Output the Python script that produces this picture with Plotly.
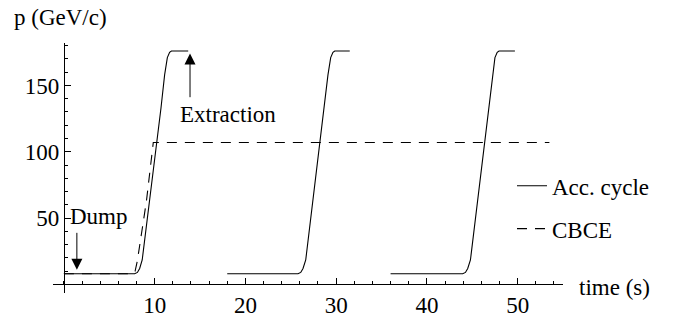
import plotly.graph_objects as go

# ---- data ----
cycle1_t = [0, 7.8, 8.1, 8.35, 8.63, 9.0, 9.48, 10.2, 10.7, 11.1, 11.4, 11.65, 11.85, 13.7]
cycle1_p = [8, 8, 9, 12, 18.4, 38.6, 63, 104.6, 133, 158, 171, 175, 176, 176]
cycle2_t = [18, 25.8, 26.1, 26.35, 26.65, 27.0, 27.5, 28.2, 28.7, 29.1, 29.4, 29.65, 29.85, 31.5]
cycle2_p = [8, 8, 9, 12, 18.4, 38.6, 63, 104.6, 133, 158, 171, 175, 176, 176]
cycle3_t = [36, 43.95, 44.25, 44.5, 44.8, 45.15, 45.6, 46.3, 46.8, 47.2, 47.5, 47.75, 47.95, 49.7]
cycle3_p = [8, 8, 9, 12, 18.4, 38.6, 63, 104.6, 133, 158, 171, 175, 176, 176]

cbce_t = [0, 7.6, 7.85, 8.1, 9.1, 9.85, 53.5]
cbce_p = [8, 8, 10, 18, 63, 107, 107]

x_ticks = [10, 20, 30, 40, 50]
y_ticks = [50, 100, 150]
x_range = [-1.2, 55]
y_range = [-6.5, 182]

FONT = "Liberation Serif, Times New Roman, Times, serif"
FS = 23

acc_t = cycle1_t + [None] + cycle2_t + [None] + cycle3_t
acc_p = cycle1_p + [None] + cycle2_p + [None] + cycle3_p

fig = go.Figure()
fig.add_trace(go.Scatter(x=acc_t, y=acc_p, mode="lines", name="Acc. cycle",
                         line=dict(color="black", width=1.1), legendgroup="a",
                         connectgaps=False, hoverinfo="skip"))
fig.add_trace(go.Scatter(x=cbce_t, y=cbce_p, mode="lines", name="CBCE",
                         line=dict(color="black", width=1.1, dash="10px,8px"),
                         legendgroup="b", hoverinfo="skip"))

x_pos = (0 - y_range[0]) / (y_range[1] - y_range[0])
y_pos = (0 - x_range[0]) / (x_range[1] - x_range[0])

fig.update_layout(
    template="none",
    width=684, height=318,
    margin=dict(l=53, r=121, t=43, b=25, autoexpand=False),
    paper_bgcolor="white", plot_bgcolor="white",
    font=dict(family=FONT, size=FS, color="black"),
    showlegend=True,
    legend=dict(x=0.9, y=0.515, xanchor="left", yanchor="top",
                traceorder="grouped", tracegroupgap=10,
                bgcolor="rgba(0,0,0,0)", borderwidth=0,
                font=dict(family=FONT, size=FS, color="black")),
    xaxis=dict(range=x_range, anchor="free", position=x_pos, automargin=False,
               showline=True, linecolor="black", linewidth=1,
               showgrid=False, zeroline=False,
               tickmode="array", tickvals=x_ticks, ticktext=[str(v) for v in x_ticks],
               ticks="inside", ticklen=6, tickwidth=1, tickcolor="black",
               minor=dict(tickmode="linear", tick0=0, dtick=2, ticks="inside",
                          ticklen=3.5, tickwidth=1, tickcolor="black", showgrid=False),
               tickfont=dict(family=FONT, size=FS, color="black")),
    yaxis=dict(range=y_range, anchor="free", position=y_pos, automargin=False,
               showline=True, linecolor="black", linewidth=1,
               showgrid=False, zeroline=False,
               tickmode="array", tickvals=y_ticks, ticktext=[str(v) for v in y_ticks],
               ticks="inside", ticklen=6, tickwidth=1, tickcolor="black",
               minor=dict(tickmode="linear", tick0=0, dtick=10, ticks="inside",
                          ticklen=3.5, tickwidth=1, tickcolor="black", showgrid=False),
               tickfont=dict(family=FONT, size=FS, color="black")),
)

# axis titles
fig.add_annotation(text="p (GeV/c)", xref="paper", yref="paper", x=0, y=1,
                   xshift=-41, yshift=26, xanchor="left", yanchor="middle",
                   showarrow=False, font=dict(family=FONT, size=FS))
fig.add_annotation(text="time (s)", xref="paper", yref="y", x=1, y=-2,
                   xshift=14, xanchor="left", yanchor="middle",
                   showarrow=False, font=dict(family=FONT, size=FS))

# labels with arrows
fig.add_annotation(text="Extraction", x=12.6, y=128, xanchor="left", yanchor="middle",
                   showarrow=False, font=dict(family=FONT, size=FS))
fig.add_annotation(x=13.9, y=174, ax=13.9, ay=140, xref="x", yref="y", axref="x", ayref="y",
                   text="", showarrow=True, arrowhead=2, arrowsize=2.2, arrowwidth=1,
                   arrowcolor="black")
fig.add_annotation(text="Dump", x=0.5, y=51, xanchor="left", yanchor="middle",
                   showarrow=False, font=dict(family=FONT, size=FS))
fig.add_annotation(x=1.43, y=11, ax=1.43, ay=40, xref="x", yref="y", axref="x", ayref="y",
                   text="", showarrow=True, arrowhead=2, arrowsize=2.2, arrowwidth=1,
                   arrowcolor="black")

fig.write_html("out.html", config={"displayModeBar": False},
               post_script="document.body.style.margin='0';document.body.style.padding='0';")
